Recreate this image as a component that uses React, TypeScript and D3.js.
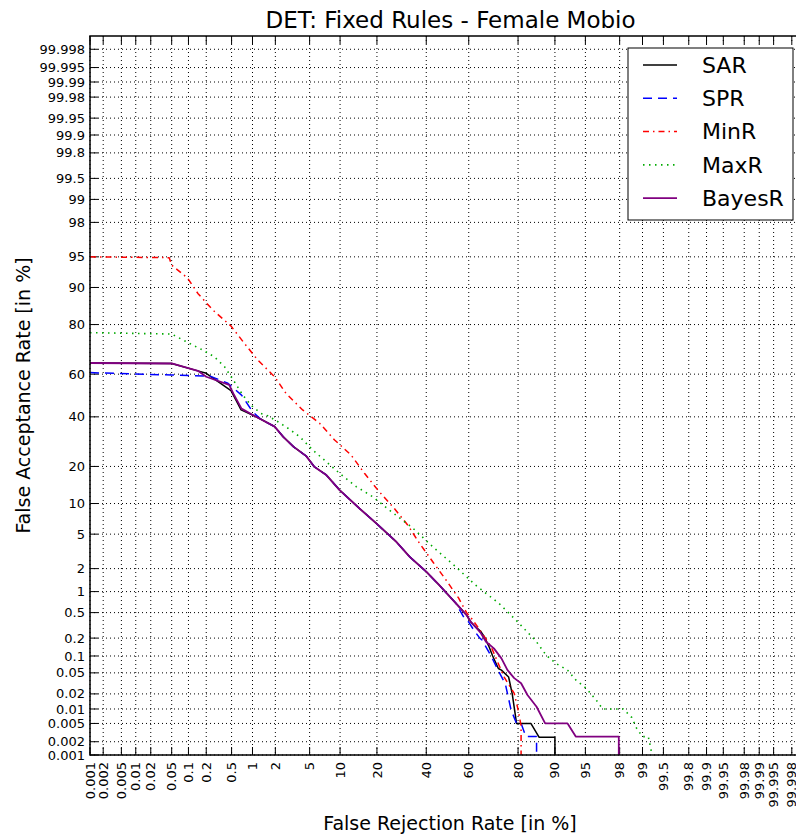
import React from "react";
import * as d3 from "d3";

// Axis ticks (percent), shared by both axes
const TICKS: number[] = [0.001, 0.002, 0.005, 0.01, 0.02, 0.05, 0.1, 0.2, 0.5, 1, 2, 5, 10, 20, 40, 60, 80, 90, 95, 98, 99, 99.5, 99.8, 99.9, 99.95, 99.98, 99.99, 99.995, 99.998];
const TICK_LABELS: string[] = TICKS.map((t) => String(t));

const TITLE = "DET: Fixed Rules - Female Mobio";
const X_LABEL = "False Rejection Rate [in %]";
const Y_LABEL = "False Acceptance Rate [in %]";

const SERIES_NAMES = ["SAR", "SPR", "MinR", "MaxR", "BayesR"];

// [FRR %, FAR %]
const SAR: [number, number][] = [
  [0.001, 65.0], [0.05, 64.8], [0.145, 61.5], [0.2, 60.4], [0.49, 52.3], [0.69, 43.2], [1.07, 40.4], [1.3, 38.9],
  [1.96, 35.6], [2.5, 31.2], [3.3, 27.2], [4.6, 23.6], [5.6, 19.9], [7.4, 17.3], [9.9, 13.1], [14.7, 9.0],
  [19.7, 6.5], [27, 4.15], [32.5, 2.8], [40, 1.83], [46, 1.23], [54, 0.685], [59, 0.46], [61, 0.36], [63, 0.305],
  [65.5, 0.254], [67, 0.21], [69, 0.144], [70.5, 0.1], [72.8, 0.06], [74, 0.056], [76.7, 0.042], [78, 0.02],
  [79.5, 0.005], [84, 0.005], [86.3, 0.0025], [90, 0.0025], [90, 0.001],
];
const SPR: [number, number][] = [
  [0.001, 60.7], [0.05, 59.6], [0.23, 59.1], [0.44, 55.8], [0.7, 50.2], [1.0, 42.4], [1.3, 38.9],
  [1.96, 35.6], [2.5, 31.2], [3.3, 27.2], [4.6, 23.6], [5.6, 19.9], [7.4, 17.3], [9.9, 13.1], [14.7, 9.0],
  [19.7, 6.5], [27, 4.15], [32.5, 2.8], [40, 1.83], [46, 1.23], [54, 0.685], [58, 0.41], [60, 0.36], [62.6, 0.26],
  [65, 0.2], [66, 0.186], [70, 0.097], [73, 0.0525], [75.5, 0.031], [77.6, 0.0095], [79.5, 0.005], [81, 0.005],
  [82.5, 0.0026], [85.6, 0.0026], [85.6, 0.001],
];
const MINR: [number, number][] = [
  [0.001, 95.0], [0.045, 94.9], [0.05, 93.9], [0.097, 91.8], [0.145, 88.7], [0.255, 84.5], [0.49, 79.5], [0.77, 73.2],
  [1.18, 66.3], [1.96, 58.8], [2.7, 51], [4.2, 43.2], [6.35, 37.1], [8.9, 29.9], [12.5, 24], [16.1, 17.8],
  [20.3, 13.1], [26.3, 9.0], [31.8, 6.2], [36.9, 3.98], [43, 2.43], [49.3, 1.43], [55.3, 0.81], [59, 0.5],
  [61, 0.42], [64, 0.305], [67, 0.21], [70, 0.14], [75, 0.042], [78.7, 0.0205], [79.8, 0.011], [81, 0.0045], [81, 0.001],
];
const MAXR: [number, number][] = [
  [0.001, 77.2], [0.05, 76.7], [0.104, 73.2], [0.175, 70.5], [0.27, 67.7], [0.39, 63.4], [0.55, 56.5], [0.73, 50.2],
  [0.95, 45.5], [1.3, 41.6], [1.6, 40.5], [2.15, 37.8], [2.85, 34.9], [3.9, 31.2], [5.4, 25.9], [7.4, 21.6],
  [9.9, 17.8], [13.8, 14], [18.6, 11.5], [24.4, 8.7], [33.9, 5.8], [43, 3.64], [54, 2.1], [63, 1.23], [73, 0.685],
  [79.3, 0.385], [85.4, 0.18], [88, 0.104], [90.2, 0.074], [92.4, 0.056], [93.7, 0.037], [95.1, 0.0256], [96.2, 0.0151],
  [96.8, 0.01], [98.2, 0.01], [98.6, 0.0067], [98.8, 0.0039], [99.0, 0.0026], [99.17, 0.0026], [99.24, 0.00135], [99.26, 0.001],
];
const BAYESR: [number, number][] = [
  [0.001, 65.0], [0.05, 64.8], [0.145, 61.5], [0.2, 58.8], [0.46, 55], [0.53, 51], [0.7, 43.8], [1.07, 40.4], [1.3, 38.9],
  [1.96, 35.6], [2.5, 31.2], [3.3, 27.2], [4.6, 23.6], [5.6, 19.9], [7.4, 17.3], [9.9, 13.1], [14.7, 9.0],
  [19.7, 6.5], [27, 4.15], [32.5, 2.8], [40, 1.83], [46, 1.23], [54, 0.685], [59, 0.46], [61, 0.36], [63, 0.305],
  [65.5, 0.24], [67.7, 0.174], [71, 0.135], [74, 0.091], [76.3, 0.056], [78.7, 0.04], [81, 0.032], [83, 0.019],
  [85.6, 0.0111], [87.8, 0.005], [92.4, 0.005], [93.7, 0.0026], [97.95, 0.0026], [97.95, 0.001],
];

const SERIES_DATA = [SAR, SPR, MINR, MAXR, BAYESR];
const SERIES_COLORS = ["#000000", "#0000ff", "#ff0000", "#00aa00", "#800080"];
const SERIES_DASH = ["", "9,6", "6,4,1.5,4", "1.5,4.5", ""];
const SERIES_WIDTH = [1.5, 1.5, 1.5, 1.6, 1.8];

function probit(p: number): number {
  const a = [-3.969683028665376e1, 2.209460984245205e2, -2.759285104469687e2, 1.38357751867269e2, -3.066479806614716e1, 2.506628277459239];
  const b = [-5.447609879822406e1, 1.615858368580409e2, -1.556989798598866e2, 6.680131188771972e1, -1.328068155288572e1];
  const c = [-7.784894002430293e-3, -3.223964580411365e-1, -2.400758277161838, -2.549732539343734, 4.374664141464968, 2.938163982698783];
  const d = [7.784695709041462e-3, 3.224671290700398e-1, 2.445134137142996, 3.754408661907416];
  const plow = 0.02425;
  const phigh = 1 - plow;
  if (p < plow) {
    const q = Math.sqrt(-2 * Math.log(p));
    return (((((c[0] * q + c[1]) * q + c[2]) * q + c[3]) * q + c[4]) * q + c[5]) / ((((d[0] * q + d[1]) * q + d[2]) * q + d[3]) * q + 1);
  }
  if (p <= phigh) {
    const q = p - 0.5;
    const r = q * q;
    return ((((((a[0] * r + a[1]) * r + a[2]) * r + a[3]) * r + a[4]) * r + a[5]) * q) / (((((b[0] * r + b[1]) * r + b[2]) * r + b[3]) * r + b[4]) * r + 1);
  }
  const q = Math.sqrt(-2 * Math.log(1 - p));
  return -(((((c[0] * q + c[1]) * q + c[2]) * q + c[3]) * q + c[4]) * q + c[5]) / ((((d[0] * q + d[1]) * q + d[2]) * q + d[3]) * q + 1);
}

const W = 796;
const H = 836;
const L = 90, R = 805, T = 36, B = 755;
const FONT = "DejaVu Sans, sans-serif";

export default function App() {
  const lo = probit(0.00001);
  const hi = probit(0.99999);
  const x = d3.scaleLinear().domain([lo, hi]).range([L, R]);
  const y = d3.scaleLinear().domain([lo, hi]).range([B, T]);
  const px = (v: number) => x(probit(v / 100));
  const py = (v: number) => y(probit(v / 100));
  const line = d3.line<[number, number]>().x((d) => px(d[0])).y((d) => py(d[1]));
  const tickLen = 8;
  const legX = 628, legY = 48, legW = 165, legH = 172;

  return (
    <svg width={W} height={H} style={{ position: "absolute", left: 0, top: 0, display: "block", background: "#fff" }} fontFamily={FONT}>
      <rect x={0} y={0} width={W} height={H} fill="#fff" />
      <defs>
        <clipPath id="plotclip">
          <rect x={L} y={T} width={R - L} height={B - T} />
        </clipPath>
      </defs>
      {/* grid */}
      <g stroke="#000" strokeWidth={1} strokeDasharray="1,3" fill="none">
        {TICKS.map((t, i) => (
          <line key={"gx" + i} x1={px(t)} x2={px(t)} y1={T} y2={B} />
        ))}
        {TICKS.map((t, i) => (
          <line key={"gy" + i} x1={L} x2={R} y1={py(t)} y2={py(t)} />
        ))}
      </g>
      {/* ticks */}
      <g stroke="#000" strokeWidth={1}>
        {TICKS.map((t, i) => (
          <g key={"t" + i}>
            <line x1={px(t)} x2={px(t)} y1={B} y2={B - tickLen} />
            <line x1={px(t)} x2={px(t)} y1={T} y2={T + tickLen} />
            <line x1={L} x2={L + tickLen} y1={py(t)} y2={py(t)} />
            <line x1={R} x2={R - tickLen} y1={py(t)} y2={py(t)} />
          </g>
        ))}
      </g>
      {/* series */}
      <g clipPath="url(#plotclip)" fill="none">
        {SERIES_DATA.map((data, i) => (
          <path
            key={"s" + i}
            d={line(data) || ""}
            stroke={SERIES_COLORS[i]}
            strokeWidth={SERIES_WIDTH[i]}
            strokeDasharray={SERIES_DASH[i] || undefined}
            strokeLinejoin="round"
          />
        ))}
      </g>
      {/* frame */}
      <rect x={L} y={T} width={R - L} height={B - T} fill="none" stroke="#000" strokeWidth={1.5} />
      {/* tick labels */}
      <g fontSize={13} fill="#000">
        {TICKS.map((t, i) => (
          <text key={"yl" + i} x={L - 5} y={py(t)} dy="0.35em" textAnchor="end">
            {TICK_LABELS[i]}
          </text>
        ))}
        {TICKS.map((t, i) => (
          <text key={"xl" + i} transform={`translate(${px(t)},${B + 7}) rotate(-90)`} dy="0.35em" textAnchor="end">
            {TICK_LABELS[i]}
          </text>
        ))}
      </g>
      {/* title & labels */}
      <text x={(L + R) / 2 + 3} y={28} textAnchor="middle" fontSize={23}>
        {TITLE}
      </text>
      <text x={450} y={830} textAnchor="middle" fontSize={19}>
        {X_LABEL}
      </text>
      <text transform={`translate(30,${(T + B) / 2}) rotate(-90)`} textAnchor="middle" fontSize={19}>
        {Y_LABEL}
      </text>
      {/* legend */}
      <g>
        <rect x={legX} y={legY} width={legW} height={legH} fill="#fff" stroke="#000" strokeWidth={1} />
        {SERIES_NAMES.map((name, i) => {
          const ly = 65 + i * 33.3;
          return (
            <g key={"lg" + i}>
              <line
                x1={643}
                x2={677}
                y1={ly}
                y2={ly}
                stroke={SERIES_COLORS[i]}
                strokeWidth={SERIES_WIDTH[i]}
                strokeDasharray={SERIES_DASH[i] || undefined}
              />
              <text x={702} y={ly} dy="0.35em" fontSize={22}>
                {name}
              </text>
            </g>
          );
        })}
      </g>
    </svg>
  );
}
